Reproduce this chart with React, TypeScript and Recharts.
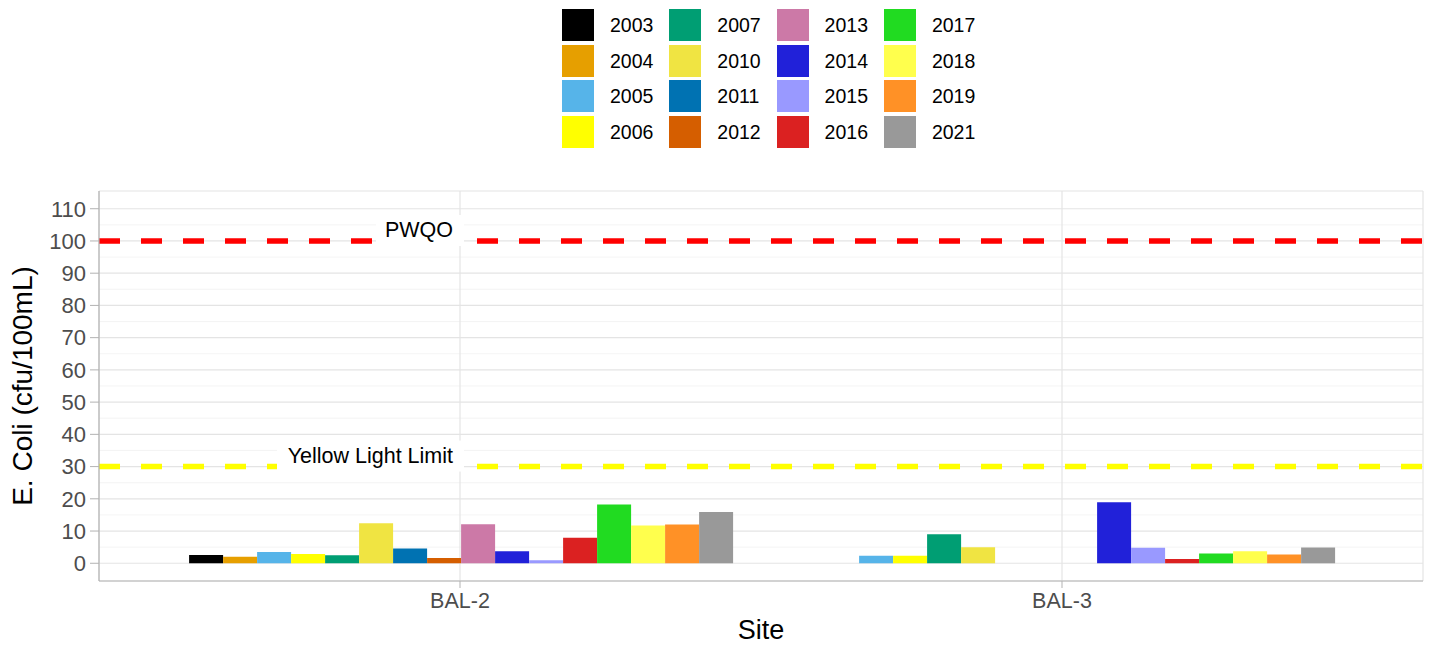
import React from 'react';
import { BarChart, Bar, XAxis, YAxis, CartesianGrid, ReferenceLine } from 'recharts';

const sites = ['BAL-2', 'BAL-3'];
const years = ['2003', '2004', '2005', '2006', '2007', '2010', '2011', '2012', '2013', '2014', '2015', '2016', '2017', '2018', '2019', '2021'];
const yearColors = [
  '#000000', '#E69F00', '#56B4E9', '#FFFF00', '#009E73', '#F0E442', '#0072B2', '#D55E00',
  '#CC79A7', '#2121D9', '#9999FF', '#DB2121', '#21DB21', '#FFFF4D', '#FF9126', '#999999',
];
// E. coli geometric means, by year (null = not sampled)
const bal2Values = [2.6, 2.0, 3.5, 2.9, 2.5, 12.4, 4.6, 1.6, 12.1, 3.7, 0.9, 7.9, 18.2, 11.7, 12.0, 15.9];
const bal3Values = [null, null, 2.35, 2.3, 9.0, 5.0, null, null, null, 18.9, 4.8, 1.3, 3.0, 3.7, 2.7, 4.9];
const yTicks = [0, 10, 20, 30, 40, 50, 60, 70, 80, 90, 100, 110];
const minorBreaks = [5, 15, 25, 35, 45, 55, 65, 75, 85, 95, 105];
const pwqo = 100;
const yellowLimit = 30;

const siteValues = [bal2Values, bal3Values];
const data = sites.map((site, i) => {
  const row: Record<string, string | number | null> = { site };
  years.forEach((yr, j) => {
    row['y' + yr] = siteValues[i][j];
  });
  return row;
});

const FONT = '"Liberation Sans", Arial, Helvetica, sans-serif';
const BORDER = '#b3b3b3';

const LimitLabel = (props: any) => {
  const { viewBox, text, boxWidth } = props;
  const right = viewBox.x + 365;
  const y = viewBox.y;
  return (
    <g>
      <rect x={right - boxWidth} y={y - 26} width={boxWidth} height={31} fill="#ffffff" />
      <text x={right - 11} y={y - 4} textAnchor="end" fontSize={21.5} fill="#000000" fontFamily={FONT}>
        {text}
      </text>
    </g>
  );
};

const YTitle = (props: any) => {
  const { viewBox } = props;
  const cx = viewBox.x - 17;
  const cy = viewBox.y + viewBox.height / 2;
  return (
    <text
      x={cx}
      y={cy}
      transform={`rotate(-90 ${cx} ${cy})`}
      textAnchor="middle"
      dominantBaseline="central"
      fontSize={28}
      fill="#000000"
      fontFamily={FONT}
    >
      E. Coli (cfu/100mL)
    </text>
  );
};

function YearLegend() {
  return (
    <div
      style={{
        position: 'absolute',
        left: 562,
        top: 9,
        display: 'grid',
        gridTemplateRows: 'repeat(4, 35.5px)',
        gridAutoColumns: '107.3px',
        gridAutoFlow: 'column',
        fontFamily: FONT,
        fontSize: 19.5,
        color: '#000000',
      }}
    >
      {years.map((yr, i) => (
        <div key={yr} style={{ display: 'flex', alignItems: 'flex-start', height: 35.5 }}>
          <div style={{ width: 32, height: 32, background: yearColors[i] }} />
          <div style={{ marginLeft: 16, lineHeight: '33px' }}>{yr}</div>
        </div>
      ))}
    </div>
  );
}

export default function App() {
  return (
    <div style={{ position: 'absolute', left: 0, top: 0, width: 1435, height: 656, background: '#fff', fontFamily: FONT }}>
      <YearLegend />
      <BarChart
        width={1435}
        height={656}
        data={data}
        margin={{ top: 191, right: 12, bottom: 0, left: 39 }}
        barCategoryGap="5%"
        barGap={0}
      >
        <CartesianGrid horizontalValues={minorBreaks} vertical={false} stroke="#efefef" strokeWidth={0.7} />
        <CartesianGrid stroke="#e4e4e4" strokeWidth={1.2} />
        <XAxis
          dataKey="site"
          padding={{ left: 60, right: 60 }}
          height={75}
          tickSize={7}
          tickMargin={5}
          tick={{ fontSize: 21.5, fill: '#4d4d4d', fontFamily: FONT }}
          tickLine={{ stroke: BORDER }}
          axisLine={{ stroke: BORDER, strokeWidth: 1.2 }}
          label={{ value: 'Site', position: 'insideBottom', offset: 17, fontSize: 27, fill: '#000000', fontFamily: FONT }}
        />
        <XAxis xAxisId="top" orientation="top" dataKey="site" height={0} tick={false} tickLine={false} axisLine={{ stroke: BORDER, strokeWidth: 1.2 }} />
        <YAxis
          type="number"
          domain={[-5.5, 115.5]}
          ticks={yTicks}
          width={60}
          tickSize={9}
          tickMargin={4}
          tick={{ fontSize: 22, fill: '#4d4d4d', fontFamily: FONT }}
          tickLine={{ stroke: BORDER }}
          axisLine={{ stroke: BORDER, strokeWidth: 1.2 }}
          label={<YTitle />}
        />
        <YAxis yAxisId="right" orientation="right" width={0} tick={false} tickLine={false} axisLine={{ stroke: BORDER, strokeWidth: 1.2 }} />
        {years.map((yr, i) => (
          <Bar key={yr} dataKey={'y' + yr} name={yr} fill={yearColors[i]} isAnimationActive={false} />
        ))}
        <ReferenceLine
          y={pwqo}
          stroke="#FF0000"
          strokeWidth={5.5}
          strokeDasharray="21 21"
          label={<LimitLabel text="PWQO" boxWidth={88} />}
        />
        <ReferenceLine
          y={yellowLimit}
          stroke="#FFFF00"
          strokeWidth={5.5}
          strokeDasharray="21 21"
          label={<LimitLabel text="Yellow Light Limit" boxWidth={187} />}
        />
      </BarChart>
    </div>
  );
}
